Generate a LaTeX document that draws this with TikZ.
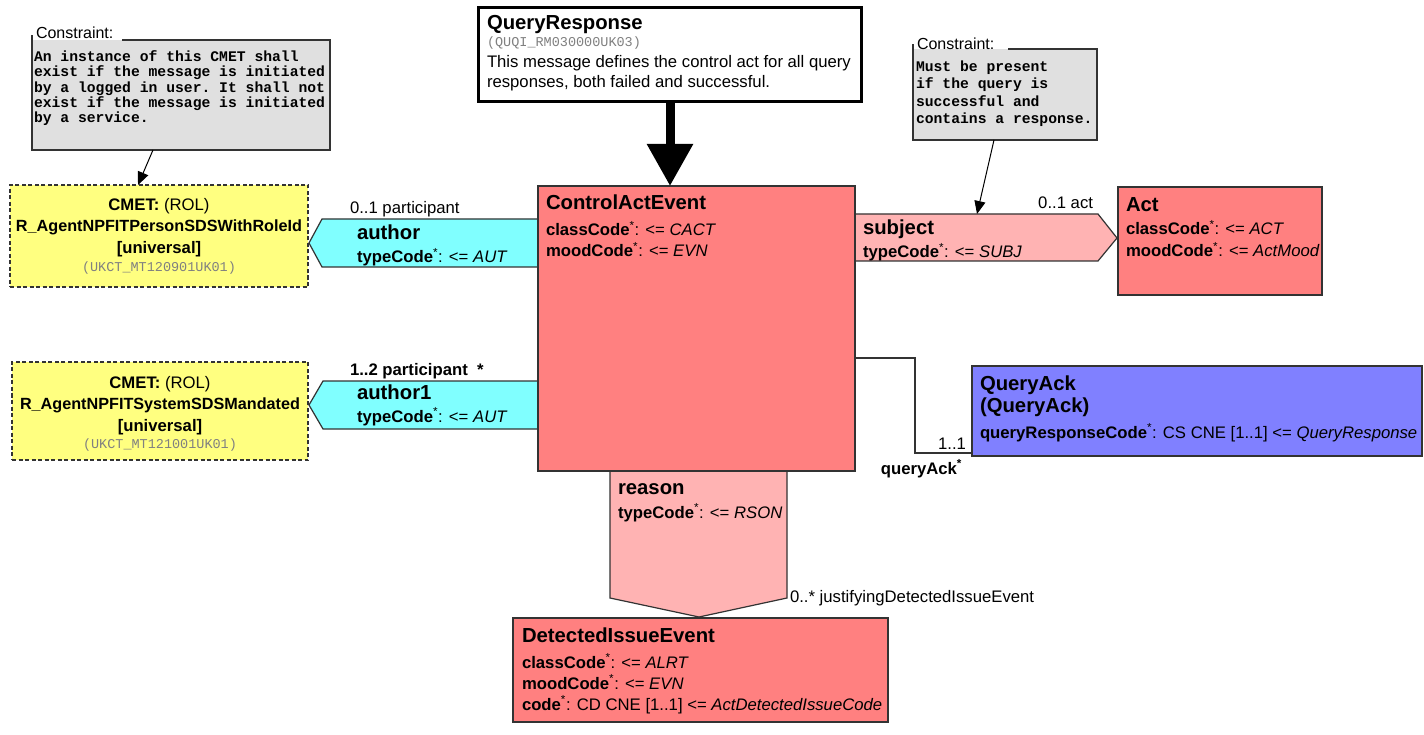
\documentclass[tikz,border=0pt]{standalone}
\usepackage{fontspec}
\setmainfont{Liberation Sans}
\setmonofont{Liberation Mono}
\usetikzlibrary{arrows.meta}
\definecolor{clsred}{HTML}{FF8080}
\definecolor{relpink}{HTML}{FFB3B3}
\definecolor{cyanp}{HTML}{80FFFF}
\definecolor{cmety}{HTML}{FFFF80}
\definecolor{qablue}{HTML}{8080FF}
\definecolor{cgray}{HTML}{E0E0E0}
\definecolor{edge}{HTML}{333333}
\newcommand{\hlA}{\fontsize{16.7}{20}\selectfont}
\newcommand{\hlT}{\fontsize{20.3}{24}\selectfont\bfseries}
\newcommand{\hlM}{\fontsize{14.7}{17}\selectfont\ttfamily\bfseries}
\newcommand{\hlS}{\fontsize{13.5}{16}\selectfont\ttfamily\color{black!50}}
\newcommand{\hlat}[2]{\textbf{#1}\textsuperscript{*}: <= \textit{#2}}
\begin{document}
\begin{tikzpicture}[x=1pt,y=-1pt,
  every node/.style={inner sep=0pt,outer sep=0pt},
  tl/.style={anchor=base west},
  tr/.style={anchor=base east},
  tc/.style={anchor=base},
  boxline/.style={draw=edge,line width=1.2pt},
  clsbox/.style={draw=edge,line width=1.2pt,anchor=north west},
  cmetbox/.style={draw=edge,line width=1.2pt,dash pattern=on 4pt off 2.5pt,fill=cmety,anchor=north west},
  carrow/.style={draw=black,line width=1pt,-{Triangle[length=13pt,width=11pt]}},
  bigarrow/.style={draw=black,line width=9pt,-{Triangle[length=42pt,width=44pt]}},
  link/.style={draw=edge,line width=1.2pt}]

\useasboundingbox (0,0) rectangle (1424,735);
\fill[white] (0,0) rectangle (1424,735);

% ---------- relation shapes (drawn under the classes)
\path[boxline,fill=cyanp] (540,219) -- (322,219) -- (309,243) -- (322,267) -- (540,267);
\path[boxline,fill=cyanp] (540,381) -- (323,381) -- (309,405) -- (323,429) -- (540,429);
\path[boxline,fill=relpink] (855,214) -- (1098,214) -- (1117,238) -- (1098,261) -- (855,261);
\path[boxline,fill=relpink] (610,471) -- (610,598) -- (699,617) -- (787,598) -- (787,471);
\coordinate (subjtop) at (977,214);

% ---------- classes
\node[clsbox,fill=clsred,minimum width=317pt,minimum height=285pt] (cae) at (538,186) {};
\node[clsbox,fill=clsred,minimum width=204pt,minimum height=108pt] (act) at (1118,187) {};
\node[clsbox,fill=qablue,minimum width=450pt,minimum height=90pt] (qack) at (972,366) {};
\node[clsbox,fill=clsred,minimum width=375pt,minimum height=104pt] (die) at (513,618) {};
\node[cmetbox,minimum width=298pt,minimum height=102pt] (cmet1) at (10,185) {};
\node[cmetbox,minimum width=296pt,minimum height=98pt] (cmet2) at (12,362) {};

% ---------- QueryResponse
\node[draw=black,line width=3pt,fill=white,anchor=north west,minimum width=383pt,minimum height=94pt] (qr) at (478,8) {};
\node[tl] (qrt) at (487,30) {\hlT QueryResponse};
\node[tl] (qrid) at (487,47) {\hlS (QUQI\_RM030000UK03)};
\node[tl] (qrd1) at (487,68) {\hlA This message defines the control act for all query};
\node[tl] (qrd2) at (487,88) {\hlA responses, both failed and successful.};
\draw[bigarrow] ([xshift=192pt]qr.south west) -- ([xshift=132pt]cae.north west);

% ---------- left constraint
\node[fill=cgray,anchor=north west,minimum width=298pt,minimum height=110pt] (c1box) at (32,40) {};
\draw[boxline] (122,40) -- (330,40) -- (330,150) -- (32,150) -- (32,35);
\node[tl] (c1lab) at (36,39) {\fontsize{16}{19}\selectfont Constraint:};
\node[tl] (c1l1) at (34,61.5) {\hlM An instance of this CMET shall};
\node[tl] (c1l2) at (34,76.8) {\hlM exist if the message is initiated};
\node[tl] (c1l3) at (34,92.1) {\hlM by a logged in user. It shall not};
\node[tl] (c1l4) at (34,107.4) {\hlM exist if the message is initiated};
\node[tl] (c1l5) at (34,122.7) {\hlM by a service.};
\draw[carrow] ([xshift=121pt]c1box.south west) -- ([xshift=128pt]cmet1.north west);

% ---------- right constraint
\node[fill=cgray,anchor=north west,minimum width=184pt,minimum height=91pt] (c2box) at (913,49) {};
\draw[boxline] (1008,49) -- (1097,49) -- (1097,140) -- (913,140) -- (913,44);
\node[tl] (c2lab) at (917,50) {\fontsize{16}{19}\selectfont Constraint:};
\node[tl] (c2l1) at (916,71.5) {\hlM Must be present};
\node[tl] (c2l2) at (916,89) {\hlM if the query is};
\node[tl] (c2l3) at (916,106.5) {\hlM successful and};
\node[tl] (c2l4) at (916,124) {\hlM contains a response.};
\draw[carrow] ([xshift=81pt]c2box.south west) -- (subjtop);

% ---------- CMET texts
\node[tc] (m1a) at (159,211) {\hlA\textbf{CMET:} (ROL)};
\node[tc] (m1b) at (159,232) {\fontsize{16.2}{20}\selectfont\bfseries R\_AgentNPFITPersonSDSWithRoleId};
\node[tc] (m1c) at (159,254) {\hlA\bfseries [universal]};
\node[tc] (m1d) at (159,272) {\hlS (UKCT\_MT120901UK01)};
\node[tc] (m2a) at (160,388) {\hlA\textbf{CMET:} (ROL)};
\node[tc] (m2b) at (160,409) {\fontsize{16.2}{20}\selectfont\bfseries R\_AgentNPFITSystemSDSMandated};
\node[tc] (m2c) at (160,431) {\hlA\bfseries [universal]};
\node[tc] (m2d) at (160,448) {\hlS (UKCT\_MT121001UK01)};

% ---------- author relations
\node[tl] (a1m) at (350,214) {\hlA 0..1 participant};
\node[tl] (a1n) at (357,240) {\hlT author};
\node[tl] (a1t) at (357,263) {\hlA\hlat{typeCode}{AUT}};
\node[tl] (a2m) at (350,375) {\hlA\bfseries 1..2 participant\ \ *};
\node[tl] (a2n) at (357,399) {\hlT author1};
\node[tl] (a2t) at (357,422) {\hlA\hlat{typeCode}{AUT}};

% ---------- ControlActEvent
\node[tl] (caet) at (546,210) {\hlT ControlActEvent};
\node[tl] (caec) at (546,236) {\hlA\hlat{classCode}{CACT}};
\node[tl] (caem) at (546,257) {\hlA\hlat{moodCode}{EVN}};

% ---------- subject / Act
\node[tr] (sm) at (1093,209) {\hlA 0..1 act};
\node[tl] (sn) at (863,235) {\hlT subject};
\node[tl] (st) at (863,258) {\hlA\hlat{typeCode}{SUBJ}};
\node[tl] (actt) at (1126,212) {\hlT Act};
\node[tl] (actc) at (1126,235) {\hlA\hlat{classCode}{ACT}};
\node[tl] (actm) at (1126,257) {\hlA\hlat{moodCode}{ActMood}};

% ---------- QueryAck
\coordinate (qaS) at (855,358);
\draw[link] (qaS) -- (915,358) |- ([yshift=3pt]qack.south west);
\node[tr] (qam) at (966,449) {\hlA 1..1};
\node[tr] (qar) at (962,474) {\hlA\bfseries queryAck\textsuperscript{*}};
\node[tl] (qat1) at (980,390) {\hlT QueryAck};
\node[tl] (qat2) at (980,412) {\hlT (QueryAck)};
\node[tl] (qaa) at (980,438) {\hlA\textbf{queryResponseCode}\textsuperscript{*}: CS CNE [1..1] <= \textit{QueryResponse}};

% ---------- reason / DetectedIssueEvent
\node[tl] (rn) at (618,494) {\hlT reason};
\node[tl] (rt) at (618,518) {\hlA\hlat{typeCode}{RSON}};
\node[tl] (rm) at (790,602) {\hlA 0..* justifyingDetectedIssueEvent};
\node[tl] (diet) at (522,642) {\hlT DetectedIssueEvent};
\node[tl] (diec) at (522,668) {\hlA\hlat{classCode}{ALRT}};
\node[tl] (diem) at (522,689) {\hlA\hlat{moodCode}{EVN}};
\node[tl] (diecd) at (522,710) {\hlA\textbf{code}\textsuperscript{*}: CD CNE [1..1] <= \textit{ActDetectedIssueCode}};
\end{tikzpicture}
\end{document}
